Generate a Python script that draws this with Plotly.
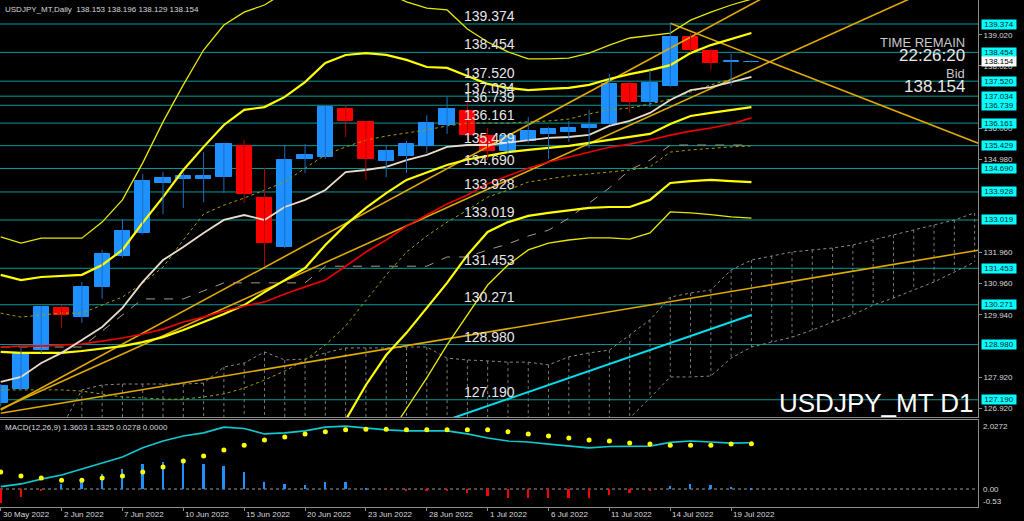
import plotly.graph_objects as go

# ---------------- data ----------------
bar_index = list(range(38))
date_tick_index = [0, 3, 6, 9, 12, 15, 18, 21, 24, 27, 30, 33, 36]
date_tick_text = ["30 May 2022", "2 Jun 2022", "7 Jun 2022", "10 Jun 2022", "15 Jun 2022",
                  "20 Jun 2022", "23 Jun 2022", "28 Jun 2022", "1 Jul 2022", "6 Jul 2022",
                  "11 Jul 2022", "14 Jul 2022", "19 Jul 2022"]

open_p = [127.08, 127.54, 128.80, 130.17, 129.87, 130.85, 131.85, 132.60, 134.22, 134.35,
          134.35, 134.41, 135.42, 133.73, 132.14, 134.99, 135.06, 136.62, 136.20, 134.93,
          135.09, 135.42, 136.10, 136.55, 135.74, 135.26, 135.58, 135.81, 135.87, 136.00,
          136.13, 137.43, 136.85, 137.36, 138.95, 138.50, 138.15, 138.153]
high_p = [127.70, 128.87, 130.23, 130.26, 131.01, 132.05, 133.05, 134.51, 134.57, 134.55,
          135.22, 135.50, 135.61, 134.71, 135.42, 135.48, 136.72, 136.75, 136.23, 135.42,
          135.58, 136.42, 137.04, 136.81, 136.00, 135.80, 136.36, 136.03, 136.23, 136.59,
          137.75, 137.49, 137.88, 139.41, 139.08, 138.58, 138.40, 138.196]
low_p = [126.98, 127.50, 128.70, 129.52, 129.68, 130.46, 131.80, 132.55, 133.21, 133.41,
         133.60, 133.89, 133.57, 131.53, 132.10, 134.54, 135.00, 135.71, 134.32, 134.41,
         134.54, 135.19, 135.81, 135.60, 134.96, 135.20, 135.52, 135.00, 135.55, 135.35,
         136.10, 136.49, 136.68, 137.33, 138.45, 137.88, 137.36, 138.129]
close_p = [127.64, 128.71, 130.20, 129.94, 130.85, 131.92, 132.66, 134.28, 134.38, 134.45,
           134.45, 135.48, 133.86, 132.27, 134.96, 135.13, 136.68, 136.23, 135.00, 135.26,
           135.48, 136.16, 136.62, 135.78, 135.26, 135.74, 135.90, 135.97, 136.00, 136.10,
           137.43, 136.85, 137.46, 138.95, 138.53, 138.11, 138.18, 138.154]

ma_fast = [127.77, 127.93, 128.38, 128.71, 129.13, 129.55, 130.17, 131.01, 131.72, 132.14,
           132.60, 133.02, 133.18, 133.02, 133.44, 133.67, 133.99, 134.57, 134.64, 134.74,
           134.96, 135.13, 135.39, 135.45, 135.45, 135.52, 135.61, 135.68, 135.71, 135.78,
           136.07, 136.23, 136.49, 136.91, 137.23, 137.33, 137.49, 137.66]
ma_slow = [128.90, 128.93, 128.93, 128.97, 129.00, 129.09, 129.19, 129.32, 129.48, 129.71,
           129.87, 130.07, 130.23, 130.36, 130.62, 130.85, 131.07, 131.52, 131.98, 132.37,
           132.82, 133.18, 133.54, 133.83, 134.19, 134.45, 134.70, 134.90, 135.06, 135.22,
           135.38, 135.48, 135.61, 135.77, 135.90, 136.00, 136.13, 136.33]
bb_upper2 = [132.47, 132.27, 132.43, 132.43, 132.43, 132.95, 133.67, 134.87, 136.20, 137.40,
             138.53, 139.34, 139.76, 139.99, 140.40, 140.60, 140.80, 140.90, 140.70, 140.40,
             140.09, 139.89, 139.83, 139.21, 138.79, 138.47, 138.24, 138.24, 138.27, 138.43,
             138.69, 138.92, 139.00, 139.08, 139.50, 139.76, 139.99, 140.18]
bb_upper1 = [131.24, 131.07, 131.17, 131.20, 131.24, 131.56, 132.05, 132.93, 133.76, 134.64,
             135.39, 136.10, 136.59, 136.68, 137.01, 137.49, 138.11, 138.37, 138.43, 138.37,
             138.21, 137.98, 137.95, 137.69, 137.43, 137.30, 137.23, 137.27, 137.30, 137.40,
             137.59, 137.75, 137.88, 138.04, 138.43, 138.69, 138.89, 139.08]
bb_middle = [128.74, 128.71, 128.71, 128.71, 128.77, 128.84, 128.93, 129.06, 129.22, 129.45,
             129.71, 129.97, 130.26, 130.68, 131.07, 131.46, 132.21, 132.86, 133.41, 133.89,
             134.32, 134.57, 134.80, 134.98, 135.11, 135.22, 135.29, 135.35, 135.42, 135.52,
             135.61, 135.71, 135.81, 136.13, 136.39, 136.49, 136.59, 136.68]
bb_lower1 = [126.20, 126.30, 126.20, 126.20, 126.30, 126.10, 125.80, 125.20, 124.70, 124.30,
             124.00, 123.80, 123.90, 124.70, 125.10, 125.40, 126.30, 126.53, 127.67, 128.64,
             129.36, 130.17, 130.98, 131.88, 132.63, 132.95, 133.15, 133.25, 133.34, 133.41,
             133.44, 133.44, 133.67, 134.22, 134.28, 134.32, 134.28, 134.25]
bb_lower2 = [125.70, 125.60, 125.70, 125.70, 125.70, 125.40, 125.00, 124.20, 123.30, 122.60,
             122.10, 121.80, 121.80, 122.60, 123.30, 123.60, 124.30, 124.80, 125.30, 125.90,
             126.92, 127.90, 128.97, 129.94, 130.91, 131.56, 132.05, 132.27, 132.37, 132.44,
             132.44, 132.40, 132.60, 133.28, 133.25, 133.19, 133.12, 133.08]
dotted_upper = [130.00, 129.87, 129.94, 130.00, 130.00, 130.26, 130.52, 130.97, 131.49, 132.37,
                133.21, 133.50, 133.73, 133.99, 134.25, 134.70, 135.13, 135.39, 135.61, 135.74,
                135.84, 135.94, 136.07, 136.16, 136.16, 136.16, 136.20, 136.23, 136.29, 136.46,
                136.59, 136.65, 136.78, 136.94, 137.17, 137.40, 137.59, 137.85]
dotted_lower = [127.51, 127.51, 127.51, 127.51, 127.47, 127.38, 127.28, 127.25, 127.21, 127.21,
                127.28, 127.38, 127.57, 127.83, 128.12, 128.48, 128.97, 129.58, 130.42, 131.24,
                131.98, 132.50, 132.95, 133.34, 133.76, 133.99, 134.25, 134.35, 134.45, 134.51,
                134.57, 134.64, 134.74, 135.22, 135.29, 135.35, 135.39, 135.42]
dashed_base = [128.90, 128.90, 128.90, 128.90, 128.90, 129.42, 129.94, 130.46, 130.46, 130.46,
               130.72, 130.98, 130.98, 130.98, 130.98, 130.98, 131.52, 131.52, 131.52, 131.52,
               131.52, 131.52, 131.82, 131.82, 132.05, 132.24, 132.50, 132.69, 133.08, 133.57,
               134.06, 134.64, 134.96, 135.45, 135.45, 135.45, 135.45, 135.45]

cloud_index = list(range(3, 49))
cloud_top = [126.30, 127.51, 127.67, 127.70, 127.70, 127.70, 127.70, 127.73, 128.25, 128.38,
             128.74, 128.48, 128.51, 128.71, 128.87, 128.87, 128.87, 128.90, 128.90, 128.54,
             128.48, 128.45, 128.41, 128.41, 128.32, 128.58, 128.71, 128.80, 129.29, 129.78,
             130.52, 130.65, 130.75, 131.40, 131.72, 131.85, 131.98, 132.05, 132.11, 132.21,
             132.37, 132.53, 132.70, 132.86, 133.02, 133.25]
cloud_bottom = [125.90, 125.90, 125.80, 125.80, 125.70, 125.70, 125.70, 125.70, 125.80, 125.80,
                125.90, 125.90, 125.90, 126.00, 126.00, 126.00, 126.00, 126.00, 126.10, 126.10,
                126.10, 126.10, 126.10, 126.10, 126.20, 126.20, 126.20, 126.30, 126.60, 127.25,
                127.93, 127.93, 127.96, 128.54, 128.90, 129.06, 129.22, 129.45, 129.71, 129.94,
                130.26, 130.49, 130.75, 131.01, 131.33, 131.66]

trend_a_index = [0, 45]
trend_a_price = [126.86, 142.86]
trend_b_index = [0, 48.2]
trend_b_price = [126.89, 141.20]
trend_c_index = [0, 48.2]
trend_c_price = [126.75, 132.04]
trend_d_index = [33, 48.2]
trend_d_price = [139.40, 135.50]
cyan_index = [20, 37]
cyan_price = [126.08, 129.94]

levels = [139.374, 138.454, 137.520, 137.034, 136.739, 136.161, 135.429, 134.690,
          133.928, 133.019, 131.453, 130.271, 128.980, 127.190]
price_axis_ticks = [126.920, 127.920, 129.940, 130.960, 131.960,
                    134.980, 136.000, 138.020, 139.020]
bid_price = 138.154

macd_line = [0.07, 0.15, 0.29, 0.41, 0.59, 0.76, 0.94, 1.21, 1.41, 1.56,
             1.65, 1.82, 1.78, 1.62, 1.65, 1.71, 1.82, 1.85, 1.79, 1.74,
             1.71, 1.71, 1.71, 1.62, 1.50, 1.41, 1.38, 1.32, 1.26, 1.21,
             1.25, 1.26, 1.26, 1.37, 1.41, 1.38, 1.35, 1.3603]
macd_signal = [0.50, 0.38, 0.32, 0.26, 0.26, 0.32, 0.38, 0.50, 0.65, 0.82,
               0.97, 1.15, 1.29, 1.44, 1.53, 1.62, 1.68, 1.74, 1.76, 1.76,
               1.74, 1.74, 1.74, 1.74, 1.74, 1.68, 1.62, 1.56, 1.50, 1.44,
               1.41, 1.35, 1.32, 1.29, 1.29, 1.29, 1.32, 1.3325]
macd_hist = [-0.41, -0.23, -0.03, 0.15, 0.29, 0.44, 0.58, 0.74, 0.80, 0.85,
             0.74, 0.68, 0.50, 0.21, 0.16, 0.12, 0.21, 0.21, 0.04, -0.01,
             -0.06, -0.05, -0.05, -0.13, -0.21, -0.25, -0.25, -0.25, -0.25, -0.25,
             -0.18, -0.13, -0.06, 0.09, 0.15, 0.12, 0.07, 0.0278]

# ---------------- figure ----------------
W, H = 1024, 521
PX_R = 978          # right edge of the plotting area (price axis line)
def px_x(x):        # pixel -> paper x (paper spans the plotting area)
    return x / PX_R
def px_y(y):
    return 1 - y / H

SMALL = "Liberation Sans, Arial, sans-serif"
SANS = "Liberation Sans, Arial, sans-serif"
SMALL_SIZE = 8

fig = go.Figure()

# Ichimoku-style cloud hatch
hx, hy = [], []
for i, a, b in zip(cloud_index, cloud_top, cloud_bottom):
    hx += [i, i, None]
    hy += [a, b, None]
fig.add_trace(go.Scatter(x=hx, y=hy, mode="lines", line=dict(color="#7a7a7a", width=1, dash="dot"),
                         hoverinfo="skip"))
fig.add_trace(go.Scatter(x=cloud_index, y=cloud_top, mode="lines",
                         line=dict(color="#8a8a8a", width=1, dash="dot")))
fig.add_trace(go.Scatter(x=cloud_index, y=cloud_bottom, mode="lines",
                         line=dict(color="#8a8a8a", width=1, dash="dot")))

# trend lines
for xi, yi, col, w in [(trend_a_index, trend_a_price, "#e0aa00", 1.6),
                       (trend_b_index, trend_b_price, "#e0aa00", 1.6),
                       (trend_c_index, trend_c_price, "#e0aa00", 1.6),
                       (trend_d_index, trend_d_price, "#e0aa00", 1.6),
                       (cyan_index, cyan_price, "#00e0f0", 2)]:
    fig.add_trace(go.Scatter(x=xi, y=yi, mode="lines", line=dict(color=col, width=w)))

# dotted / dashed lines
fig.add_trace(go.Scatter(x=bar_index, y=dotted_upper, mode="lines",
                         line=dict(color="#a0a000", width=1, dash="dot")))
fig.add_trace(go.Scatter(x=bar_index, y=dotted_lower, mode="lines",
                         line=dict(color="#a0a000", width=1, dash="dot")))
fig.add_trace(go.Scatter(x=bar_index, y=dashed_base, mode="lines",
                         line=dict(color="#a89a88", width=1, dash="dash")))

# bands
fig.add_trace(go.Scatter(x=bar_index, y=bb_upper2, mode="lines", line=dict(color="#e8e800", width=1.3)))
fig.add_trace(go.Scatter(x=bar_index, y=bb_lower2, mode="lines", line=dict(color="#e8e800", width=1.3)))
fig.add_trace(go.Scatter(x=bar_index, y=bb_upper1, mode="lines", line=dict(color="#ffff00", width=2.2)))
fig.add_trace(go.Scatter(x=bar_index, y=bb_lower1, mode="lines", line=dict(color="#ffff00", width=2.2)))
fig.add_trace(go.Scatter(x=bar_index, y=bb_middle, mode="lines", line=dict(color="#ffff00", width=2.2)))

# moving averages
fig.add_trace(go.Scatter(x=bar_index, y=ma_slow, mode="lines", line=dict(color="#ee0000", width=1.6)))
fig.add_trace(go.Scatter(x=bar_index, y=ma_fast, mode="lines", line=dict(color="#eadccc", width=1.8)))

# candles: wicks
up = [c >= o for o, c in zip(open_p, close_p)]
for is_up, col in [(True, "#1c6cc0"), (False, "#b80000")]:
    wx, wy = [], []
    for i in bar_index:
        if up[i] == is_up:
            wx += [i, i, None]
            wy += [low_p[i], high_p[i], None]
    fig.add_trace(go.Scatter(x=wx, y=wy, mode="lines", line=dict(color=col, width=1)))
# candle bodies
body_base = [min(o, c) for o, c in zip(open_p, close_p)]
body_h = [abs(c - o) for o, c in zip(open_p, close_p)]
body_col = ["#1e90ff" if u else "#ff0000" for u in up]
fig.add_trace(go.Bar(x=bar_index, y=body_h, base=body_base, width=0.75,
                     marker=dict(color=body_col, line=dict(color=body_col, width=1))))

# MACD panel
hist_col = ["#1e90ff" if v >= 0 else "#ff0000" for v in macd_hist]
fig.add_trace(go.Bar(x=bar_index, y=macd_hist, width=0.09, marker=dict(color=hist_col, line=dict(width=0)),
                     xaxis="x2", yaxis="y2"))
fig.add_trace(go.Scatter(x=bar_index, y=macd_line, mode="lines", line=dict(color="#10c8d0", width=1.6),
                         xaxis="x2", yaxis="y2"))
fig.add_trace(go.Scatter(x=bar_index, y=macd_signal, mode="markers",
                         marker=dict(color="#ffff00", size=5), xaxis="x2", yaxis="y2"))

# ---------------- layout ----------------
XR = [(0 - 0.7) / 20.29, (PX_R - 0.7) / 20.29]
main_top_price = 139.374 + (24 - 0) * 0.032425
main_bot_price = 139.374 - (417 - 24) * 0.032425

shapes = []
for lv in levels:
    shapes.append(dict(type="line", xref="paper", yref="y", x0=0, x1=1, y0=lv, y1=lv,
                       line=dict(color="#0a9a9a", width=1), layer="below"))
shapes.append(dict(type="line", xref="paper", yref="y2", x0=0, x1=1, y0=0, y1=0,
                   line=dict(color="#9a9a9a", width=1, dash="dot"), layer="below"))

ann = []
# level labels in the chart
for lv in levels:
    ann.append(dict(xref="paper", yref="y", x=px_x(462), y=lv, text=f"{lv:.3f}", showarrow=False,
                    xanchor="left", yanchor="bottom", yshift=-2,
                    font=dict(family=SANS, size=14, color="#e6e6e6")))
# level boxes on the price axis
for lv in levels:
    ann.append(dict(xref="paper", yref="y", x=px_x(981), y=lv, text=f"{lv:.3f}", showarrow=False,
                    xanchor="left", yanchor="middle", bgcolor="#00ffff", borderpad=0,
                    width=34, height=9,
                    font=dict(family=SMALL, size=SMALL_SIZE, color="#102020")))
ann.append(dict(xref="paper", yref="y", x=px_x(981), y=bid_price, text=f"{bid_price:.3f}", showarrow=False,
                xanchor="left", yanchor="middle", bgcolor="#ffffff", borderpad=0, width=34, height=9,
                font=dict(family=SMALL, size=SMALL_SIZE, color="#000000")))
# header texts
ann.append(dict(xref="paper", yref="paper", x=px_x(3), y=px_y(9),
                text="USDJPY_MT,Daily  138.153 138.196 138.129 138.154",
                showarrow=False, xanchor="left", yanchor="middle",
                font=dict(family=SMALL, size=SMALL_SIZE, color="#d8d8d8")))
ann.append(dict(xref="paper", yref="paper", x=px_x(3), y=px_y(427),
                text="MACD(12,26,9) 1.3603 1.3325 0.0278 0.0000",
                showarrow=False, xanchor="left", yanchor="middle",
                font=dict(family=SMALL, size=SMALL_SIZE, color="#d8d8d8")))
# info block
for txt, ycen, size, col, hgt in [("TIME REMAIN", 42, 13, "#c8c8c8", 11), ("22:26:20", 55, 17, "#e8e8e8", 13),
                                  ("Bid", 73, 13, "#c8c8c8", 11), ("138.154", 87, 17, "#e8e8e8", 13)]:
    ann.append(dict(xref="paper", yref="paper", x=px_x(966), y=px_y(ycen), text=txt, showarrow=False,
                    xanchor="right", yanchor="middle", height=hgt, borderpad=0,
                    font=dict(family=SANS, size=size, color=col)))
ann.append(dict(xref="paper", yref="paper", x=px_x(976), y=px_y(403), text="USDJPY_MT D1", showarrow=False,
                xanchor="right", yanchor="middle", font=dict(family=SANS, size=26, color="#ffffff")))
# MACD axis labels
for txt, ycen in [("2.0272", 426), ("0.00", 489), ("-0.53", 501)]:
    ann.append(dict(xref="paper", yref="paper", x=px_x(982), y=px_y(ycen), text=txt, showarrow=False,
                    xanchor="left", yanchor="middle", height=9, borderpad=0,
                    font=dict(family=SMALL, size=SMALL_SIZE, color="#d8d8d8")))
# date labels
for i, t in zip(date_tick_index, date_tick_text):
    ann.append(dict(xref="x2", yref="paper", x=i, y=px_y(514), text=t, showarrow=False,
                    xanchor="left", yanchor="middle",
                    font=dict(family=SMALL, size=SMALL_SIZE, color="#d8d8d8")))

axis_common = dict(showgrid=False, zeroline=False, showline=True, mirror=True,
                   linecolor="#8c8c8c", linewidth=1)

fig.update_layout(
    width=W, height=H, margin=dict(l=0, r=W - PX_R, t=0, b=0),
    paper_bgcolor="#000000", plot_bgcolor="#000000", showlegend=False,
    barmode="overlay", bargap=0,
    xaxis=dict(domain=[0, 1], range=XR, showticklabels=False, ticks="", **axis_common),
    xaxis2=dict(domain=[0, 1], range=XR, matches="x", anchor="y2", showticklabels=False,
                ticks="outside", ticklen=3, tickcolor="#8c8c8c", tickvals=date_tick_index, **axis_common),
    yaxis=dict(domain=[px_y(417), 1], range=[main_bot_price, main_top_price], side="right",
               tickvals=price_axis_ticks, ticktext=[f"{v:.3f}" for v in price_axis_ticks],
               ticks="outside", ticklen=3, tickcolor="#8c8c8c",
               tickfont=dict(family=SMALL, size=SMALL_SIZE, color="#d8d8d8"), **axis_common),
    yaxis2=dict(domain=[px_y(507), px_y(420)], range=[-0.529, 2.029], side="right", anchor="x2",
                showticklabels=False, ticks="", **axis_common),
    shapes=shapes, annotations=ann,
    font=dict(family=SANS, color="#d8d8d8"),
)

fig.write_html("out.html", config={"displayModeBar": False},
               post_script="document.body.style.margin='0';document.body.style.overflow='hidden';")
